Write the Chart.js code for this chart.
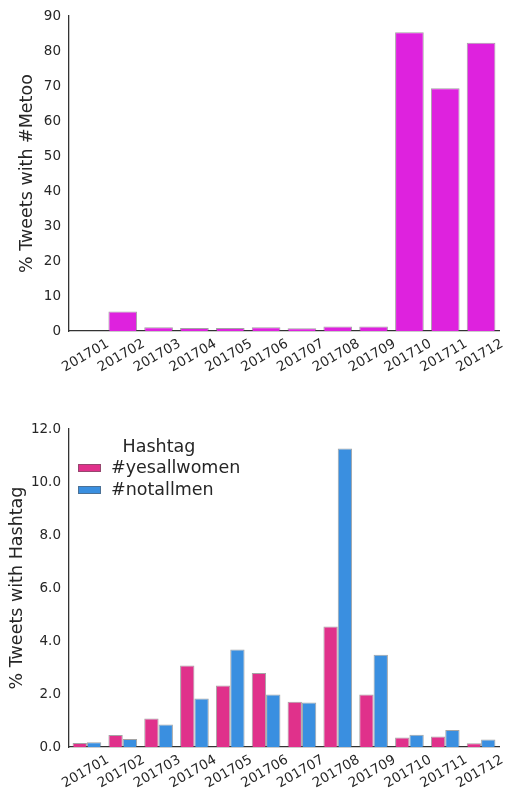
<!DOCTYPE html>
<html>
<head>
<meta charset="UTF-8">
<script src="https://cdn.jsdelivr.net/npm/chart.js@4.4.0/dist/chart.umd.min.js"></script>
<title>Tweets by month</title>
<style>
  body { margin: 0; background: #fff; }
  #wrapTop { position: absolute; left: 0; top: 0; width: 507px; height: 395px; }
  #wrapBottom { position: absolute; left: 0; top: 400px; width: 507px; height: 393px; }
</style>
</head>
<body>
<div id="wrapTop"><canvas id="chartMetoo"></canvas></div>
<div id="wrapBottom"><canvas id="chartHashtag"></canvas></div>
<script>
// data
var months = ['201701', '201702', '201703', '201704', '201705', '201706',
              '201707', '201708', '201709', '201710', '201711', '201712'];
var metooPct = [0, 5.6, 1.1, 0.85, 0.85, 1.1, 0.8, 1.3, 1.3, 85.4, 69.4, 82.4];
var metooTicks = [0, 10, 20, 30, 40, 50, 60, 70, 80, 90];

var hashtagNames = ['#yesallwomen', '#notallmen'];
var yesallwomenPct = [0.15, 0.45, 1.08, 3.08, 2.32, 2.79, 1.71, 4.55, 1.98, 0.36, 0.4, 0.14];
var notallmenPct = [0.18, 0.3, 0.85, 1.83, 3.68, 1.98, 1.68, 11.26, 3.48, 0.46, 0.64, 0.28];
var hashtagTicks = [0, 2, 4, 6, 8, 10, 12];

var FONT = 'DejaVu Sans';
var textColor = '#262626';
var axisColor = '#333';
var edge = 'rgba(90,90,90,0.55)';

function xAxis(height) {
  return {
    grid: { display: false, drawTicks: false },
    border: { color: axisColor, width: 1.3 },
    ticks: {
      color: textColor, font: { family: FONT, size: 13.5 },
      minRotation: 30, maxRotation: 30, autoSkip: false,
      labelOffset: 21, padding: 5
    },
    afterFit: function (s) { s.height = height; }
  };
}

function yAxis(ticks, titleText, titlePad, fmt) {
  return {
    min: ticks[0], max: ticks[ticks.length - 1],
    grid: { display: false, drawTicks: false },
    border: { color: axisColor, width: 1.3 },
    afterBuildTicks: function (s) { s.ticks = ticks.map(function (v) { return { value: v }; }); },
    ticks: {
      color: textColor, font: { family: FONT, size: 13.5 }, padding: 8,
      callback: function (v) { return fmt ? v.toFixed(1) : v; }
    },
    title: {
      display: true, text: titleText, color: textColor,
      font: { family: FONT, size: 17.5 }, padding: { top: titlePad, bottom: 0 }
    },
    afterFit: function (s) { s.width = 69; }
  };
}

new Chart(document.getElementById('chartMetoo'), {
  type: 'bar',
  data: {
    labels: months,
    datasets: [{
      label: '% Tweets with #Metoo',
      data: metooPct,
      backgroundColor: '#de22de',
      borderColor: edge,
      borderWidth: 1,
      borderSkipped: 'bottom',
      categoryPercentage: 0.8,
      barPercentage: 1
    }]
  },
  options: {
    responsive: true, maintainAspectRatio: false, animation: false,
    layout: { padding: { top: 10, right: 8, left: 0, bottom: 0 } },
    plugins: { legend: { display: false }, tooltip: { enabled: false } },
    scales: {
      x: xAxis(64),
      y: yAxis(metooTicks, '% Tweets with #Metoo', 17, false)
    }
  }
});

// small legend drawn inside the plot area, like the reference
var hashtagLegend = {
  id: 'hashtagLegend',
  afterDraw: function (chart) {
    var ctx = chart.ctx;
    var left = chart.chartArea.left;
    var top = chart.chartArea.top;
    ctx.save();
    ctx.font = '17.5px "' + FONT + '"';
    ctx.fillStyle = textColor;
    ctx.textBaseline = 'middle';
    ctx.textAlign = 'center';
    ctx.fillText('Hashtag', left + 90, top + 18);
    ctx.textAlign = 'left';
    chart.data.datasets.forEach(function (ds, i) {
      var y = top + 39 + i * 22;
      ctx.fillStyle = ds.backgroundColor;
      ctx.fillRect(left + 9, y - 4, 23, 8);
      ctx.strokeStyle = edge;
      ctx.lineWidth = 1;
      ctx.strokeRect(left + 9.5, y - 3.5, 22, 7);
      ctx.fillStyle = textColor;
      ctx.fillText(ds.label, left + 42, y);
    });
    ctx.restore();
  }
};

new Chart(document.getElementById('chartHashtag'), {
  type: 'bar',
  data: {
    labels: months,
    datasets: [{
      label: hashtagNames[0],
      data: yesallwomenPct,
      backgroundColor: '#e0318b',
      borderColor: edge,
      borderWidth: 1,
      borderSkipped: 'bottom',
      categoryPercentage: 0.8,
      barPercentage: 1
    }, {
      label: hashtagNames[1],
      data: notallmenPct,
      backgroundColor: '#3a8fe0',
      borderColor: edge,
      borderWidth: 1,
      borderSkipped: 'bottom',
      categoryPercentage: 0.8,
      barPercentage: 1
    }]
  },
  options: {
    responsive: true, maintainAspectRatio: false, animation: false,
    layout: { padding: { top: 29, right: 8, left: 0, bottom: 0 } },
    plugins: { legend: { display: false }, tooltip: { enabled: false } },
    scales: {
      x: xAxis(46),
      y: yAxis(hashtagTicks, '% Tweets with Hashtag', 7, true)
    }
  },
  plugins: [hashtagLegend]
});
</script>
</body>
</html>
